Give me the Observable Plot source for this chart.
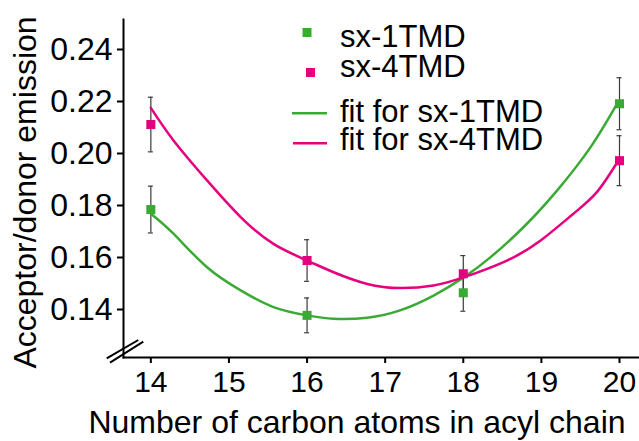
<!DOCTYPE html>
<html>
<head>
<meta charset="utf-8">
<script src="https://cdn.jsdelivr.net/npm/d3@7"></script>
<script src="https://cdn.jsdelivr.net/npm/@observablehq/plot@0.6"></script>
<style>
  body { margin: 0; background: #fff; }
  svg { display: block; }
</style>
</head>
<body>
<div id="chart"></div>
<script>
// ---- data ----
const carbons = [14, 16, 18, 20];
const tmd1 = [0.1769, 0.1362, 0.1449, 0.2176];
const tmd1Err = [0.0090, 0.0067, 0.0071, 0.0100];
const tmd4 = [0.2096, 0.1573, 0.1522, 0.1957];
const tmd4Err = [0.0105, 0.0080, 0.0070, 0.0096];

const fit1X = [14, 14.29, 14.72, 15.15, 15.57, 16.0, 16.34, 16.77, 17.19, 17.62, 18.01, 18.35, 18.77, 19.2, 19.63, 19.97];
const fit1Y = [0.1753, 0.1676, 0.1547, 0.1458, 0.1394, 0.1362, 0.1349, 0.1353, 0.1381, 0.1438, 0.1509, 0.1586, 0.1701, 0.1842, 0.2009, 0.2176];
const fit4X = [14, 14.29, 14.72, 15.15, 15.57, 16.0, 16.34, 16.77, 17.19, 17.62, 18.01, 18.56, 18.99, 19.41, 19.71, 19.97];
const fit4Y = [0.2160, 0.2035, 0.1881, 0.1740, 0.1637, 0.1573, 0.1528, 0.1483, 0.1467, 0.1477, 0.1509, 0.1573, 0.1650, 0.1753, 0.1836, 0.1950];

const xTicks = [14, 15, 16, 17, 18, 19, 20];
const yTicks = [0.14, 0.16, 0.18, 0.20, 0.22, 0.24];

const seriesNames = ["sx-1TMD", "sx-4TMD"];
const fitNames = ["fit for sx-1TMD", "fit for sx-4TMD"];
const xLabel = "Number of carbon atoms in acyl chain";
const yLabel = "Acceptor/donor emission";

const green = "#3aaa35";
const pink = "#e5007e";
const errColor = "#3a3a3a";

// ---- tables ----
const pts1 = carbons.map((c, i) => ({x: c, y: tmd1[i], e: tmd1Err[i]}));
const pts4 = carbons.map((c, i) => ({x: c, y: tmd4[i], e: tmd4Err[i]}));
const allPts = pts1.concat(pts4);
const fit1 = fit1X.map((x, i) => ({x, y: fit1Y[i]}));
const fit4 = fit4X.map((x, i) => ({x, y: fit4Y[i]}));

const W = 639, H = 441, ML = 123, MT = 19, MB = 84;

const plot = Plot.plot({
  width: W, height: H,
  marginLeft: ML, marginRight: 0, marginTop: MT, marginBottom: MB,
  style: {fontFamily: "'Liberation Sans', Arial, sans-serif", background: "#fff", color: "#000"},
  x: {domain: [13.65, 20.256]},
  y: {domain: [0.12, 0.25]},
  marks: [
    Plot.frame({anchor: "left", stroke: "#000", strokeWidth: 2}),
    Plot.frame({anchor: "bottom", stroke: "#000", strokeWidth: 2}),
    Plot.axisY({ticks: yTicks, tickFormat: d3.format(".2f"), tickSize: 6, tickPadding: 5,
      fontSize: 32, strokeWidth: 2, label: null, dy: 4}),
    Plot.axisX({ticks: xTicks, tickFormat: d => String(d), tickSize: 6, tickPadding: 7,
      fontSize: 30, strokeWidth: 2, label: null}),
    // error bars
    Plot.ruleX(allPts, {x: "x", y1: d => d.y - d.e, y2: d => d.y + d.e, stroke: errColor, strokeWidth: 1.2}),
    Plot.ruleY(allPts, {y: d => d.y + d.e, x1: "x", x2: "x", insetLeft: -2.5, insetRight: -2.5, stroke: errColor, strokeWidth: 1.2}),
    Plot.ruleY(allPts, {y: d => d.y - d.e, x1: "x", x2: "x", insetLeft: -2.5, insetRight: -2.5, stroke: errColor, strokeWidth: 1.2}),
    // fits
    Plot.line(fit1, {x: "x", y: "y", stroke: green, strokeWidth: 2.5, curve: "natural"}),
    Plot.line(fit4, {x: "x", y: "y", stroke: pink, strokeWidth: 2.5, curve: "natural"}),
    // points
    Plot.dot(pts1, {x: "x", y: "y", symbol: "square", r: 5.1, fill: green, stroke: "none"}),
    Plot.dot(pts4, {x: "x", y: "y", symbol: "square", r: 5.1, fill: pink, stroke: "none"})
  ]
});

const svg = d3.select(plot);
const font = "'Liberation Sans', Arial, sans-serif";

// axis labels
svg.append("text")
  .attr("x", 357).attr("y", 433)
  .attr("text-anchor", "middle")
  .attr("font-family", font).attr("font-size", 32).attr("fill", "#000")
  .text(xLabel);
svg.append("text")
  .attr("transform", "translate(36,192.5) rotate(-90)")
  .attr("text-anchor", "middle")
  .attr("font-family", font).attr("font-size", 32).attr("fill", "#000")
  .text(yLabel);

// axis break marks at the origin corner
const cx = ML, cy = H - MB;
const brk = svg.append("g").attr("stroke", "#000").attr("stroke-width", 2);
brk.append("line").attr("x1", cx - 16.3).attr("y1", cy + 1.3).attr("x2", cx + 15.3).attr("y2", cy - 17);
brk.append("line").attr("x1", cx - 13).attr("y1", cy + 5.7).attr("x2", cx + 20.3).attr("y2", cy - 15.3);

// legend
const lg = svg.append("g").attr("font-family", font).attr("font-size", 31).attr("fill", "#000").attr("text-anchor", "start");
lg.append("rect").attr("x", 302.5).attr("y", 28).attr("width", 9).attr("height", 9).attr("fill", green);
lg.append("rect").attr("x", 306).attr("y", 68).attr("width", 9).attr("height", 9).attr("fill", pink);
lg.append("text").attr("x", 340).attr("y", 46.7).attr("text-anchor", "start").text(seriesNames[0]);
lg.append("text").attr("x", 340).attr("y", 76.7).attr("text-anchor", "start").text(seriesNames[1]);
lg.append("line").attr("x1", 292).attr("x2", 327).attr("y1", 113.3).attr("y2", 113.3).attr("stroke", green).attr("stroke-width", 2.5);
lg.append("line").attr("x1", 293).attr("x2", 327).attr("y1", 143.3).attr("y2", 143.3).attr("stroke", pink).attr("stroke-width", 2.5);
lg.append("text").attr("x", 340).attr("y", 121.7).attr("text-anchor", "start").text(fitNames[0]);
lg.append("text").attr("x", 340).attr("y", 150).attr("text-anchor", "start").text(fitNames[1]);

document.getElementById("chart").appendChild(plot);
</script>
</body>
</html>
